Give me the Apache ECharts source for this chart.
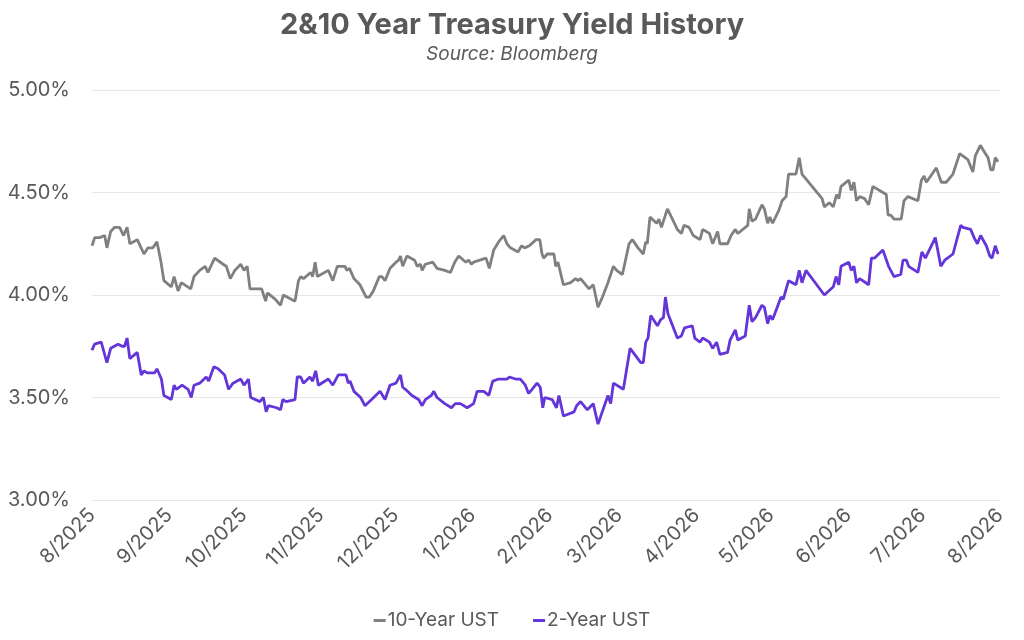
<!DOCTYPE html>
<html>
<head>
<meta charset="utf-8">
<title>2&10 Year Treasury Yield History</title>
<script src="https://cdn.jsdelivr.net/npm/echarts@6/dist/echarts.min.js"></script>
<style>
  html, body { margin: 0; padding: 0; background: #fff; }
  #chart { width: 1024px; height: 640px; }
</style>
</head>
<body>
<div id="chart"></div>
<script>
// x positions are days after 8/1/2025
var tenDays = [0, 1.1, 3.1, 5.1, 6.0, 7.5, 9.1, 11.1, 12.7, 14.1, 15.2, 18.2, 20.9, 22.5, 24.5, 26.1, 27.6, 28.9, 31.9, 33.0,
  34.6, 35.9, 39.7, 41.0, 43.3, 45.5, 46.6, 49.3, 52.7, 54.0, 55.6, 57.4, 59.8, 61.1, 62.4, 63.5, 68.2, 69.8, 70.5, 73.6,
  75.8, 76.9, 81.6, 83.0, 83.9, 85.0, 87.9, 88.7, 89.7, 90.6, 95.0, 96.8, 98.6, 101.7, 102.4, 103.5, 105.3, 107.7, 110.2, 111.5,
  113.1, 115.5, 116.5, 117.8, 119.8, 122.2, 123.3, 124.0, 124.9, 126.6, 129.7, 130.7, 132.0, 132.7, 134.0, 137.0, 138.7, 141.8, 144.1, 145.8,
  147.4, 150.3, 151.4, 152.5, 153.4, 158.4, 159.7, 161.5, 163.5, 165.5, 166.8, 168.2, 171.3, 172.6, 173.9, 175.8, 178.5, 180.0, 180.9, 181.6,
  183.0, 185.7, 186.4, 187.3, 189.5, 192.4, 194.4, 195.4, 196.4, 199.8, 201.5, 203.4, 205.2, 207.4, 209.6, 210.9, 213.2, 215.9, 217.2, 219.5,
  221.6, 222.6, 223.2, 224.3, 227.0, 227.9, 228.9, 231.3, 233.7, 235.3, 236.9, 238.0, 240.0, 241.7, 244.4, 245.5, 248.2, 249.5, 251.5, 252.4,
  255.5, 256.9, 258.6, 259.6, 263.6, 264.2, 265.3, 266.7, 269.3, 270.3, 271.6, 272.5, 273.6, 276.0, 277.4, 279.0, 280.0, 283.0, 284.3, 285.4,
  293.5, 294.4, 296.4, 298.0, 299.3, 300.2, 301.1, 304.2, 305.2, 306.3, 307.3, 308.6, 310.6, 312.2, 313.9, 316.6, 319.3, 320.0, 321.1, 322.4,
  325.3, 326.4, 328.0, 332.0, 333.4, 334.5, 335.4, 339.4, 341.4, 343.4, 346.1, 348.8, 352.1, 354.1, 355.1, 355.9, 357.1, 359.1, 360.2, 361.3,
  362.2, 363.1, 364.2];
var tenYear = [4.24, 4.28, 4.28, 4.29, 4.23, 4.31, 4.33, 4.33, 4.29, 4.33, 4.25, 4.27, 4.20, 4.23, 4.23, 4.26, 4.17, 4.07, 4.04, 4.09,
  4.02, 4.06, 4.03, 4.09, 4.12, 4.14, 4.11, 4.18, 4.15, 4.14, 4.08, 4.12, 4.15, 4.12, 4.14, 4.03, 4.03, 3.97, 4.01, 3.98,
  3.95, 4.00, 3.97, 4.07, 4.09, 4.08, 4.11, 4.09, 4.16, 4.09, 4.12, 4.07, 4.14, 4.14, 4.12, 4.13, 4.08, 4.05, 3.99, 3.99,
  4.02, 4.09, 4.09, 4.07, 4.13, 4.16, 4.17, 4.19, 4.14, 4.19, 4.17, 4.14, 4.15, 4.12, 4.15, 4.16, 4.13, 4.12, 4.11, 4.16,
  4.19, 4.16, 4.17, 4.15, 4.16, 4.18, 4.13, 4.22, 4.26, 4.29, 4.25, 4.23, 4.21, 4.24, 4.23, 4.24, 4.27, 4.27, 4.20, 4.18,
  4.20, 4.20, 4.14, 4.16, 4.05, 4.06, 4.08, 4.07, 4.08, 4.03, 4.05, 3.94, 3.99, 4.06, 4.14, 4.12, 4.10, 4.25, 4.27, 4.23,
  4.20, 4.26, 4.25, 4.38, 4.35, 4.37, 4.33, 4.42, 4.36, 4.32, 4.30, 4.34, 4.33, 4.29, 4.27, 4.32, 4.30, 4.25, 4.31, 4.25,
  4.25, 4.29, 4.32, 4.30, 4.34, 4.42, 4.36, 4.37, 4.44, 4.42, 4.35, 4.38, 4.35, 4.41, 4.46, 4.48, 4.59, 4.59, 4.67, 4.59,
  4.47, 4.43, 4.45, 4.43, 4.49, 4.47, 4.53, 4.56, 4.51, 4.55, 4.46, 4.48, 4.47, 4.44, 4.53, 4.51, 4.49, 4.39, 4.39, 4.37,
  4.37, 4.46, 4.48, 4.46, 4.56, 4.58, 4.55, 4.62, 4.55, 4.55, 4.59, 4.69, 4.66, 4.60, 4.68, 4.68, 4.73, 4.69, 4.67, 4.61,
  4.61, 4.67, 4.65];

var twoDays = [0, 1.0, 3.7, 6.0, 7.5, 10.5, 12.1, 13.1, 14.1, 15.2, 18.2, 19.8, 20.9, 22.2, 25.2, 26.1, 27.9, 28.9, 31.9, 33.0,
  33.9, 36.2, 38.6, 39.9, 41.0, 43.3, 45.9, 46.9, 49.0, 50.7, 53.3, 54.9, 56.7, 59.8, 61.1, 62.9, 63.8, 67.5, 68.9, 70.0,
  70.9, 74.2, 75.8, 76.7, 78.0, 81.6, 82.5, 83.9, 85.0, 87.6, 88.7, 89.9, 91.0, 95.0, 96.8, 99.0, 102.1, 103.0, 103.7, 105.3,
  108.0, 109.7, 112.4, 115.8, 117.8, 119.8, 122.2, 124.0, 124.9, 126.0, 128.6, 131.3, 132.7, 134.0, 136.4, 137.4, 138.7, 141.8, 144.5, 146.0,
  148.1, 150.8, 153.4, 154.8, 157.5, 159.5, 161.1, 163.5, 165.5, 166.8, 167.8, 170.2, 172.2, 174.2, 175.5, 176.9, 178.9, 180.2, 181.2, 182.0,
  185.0, 186.7, 187.7, 189.5, 193.8, 194.8, 196.4, 199.1, 201.5, 203.4, 207.4, 208.5, 209.6, 213.6, 216.3, 220.6, 221.6, 222.6, 223.5, 224.6,
  227.3, 228.6, 229.7, 230.5, 231.5, 235.3, 236.9, 238.2, 241.3, 242.3, 244.4, 245.5, 248.2, 249.5, 251.1, 252.4, 255.5, 256.5, 258.6, 259.6,
  262.6, 264.2, 265.3, 266.7, 269.3, 270.3, 271.6, 272.5, 273.6, 277.0, 277.9, 280.0, 283.0, 284.3, 285.4, 287.0, 294.4, 298.0, 299.1, 300.2,
  301.1, 304.2, 305.2, 306.3, 307.3, 308.6, 312.2, 313.3, 314.6, 317.9, 320.2, 322.4, 325.1, 326.0, 327.4, 328.3, 332.0, 333.6, 335.0, 339.0,
  341.2, 342.8, 346.1, 349.2, 350.1, 353.2, 354.6, 355.9, 357.2, 359.5, 360.9, 361.8, 363.1, 364.2];
var twoYear = [3.73, 3.76, 3.77, 3.67, 3.74, 3.76, 3.75, 3.75, 3.79, 3.69, 3.72, 3.61, 3.63, 3.62, 3.62, 3.64, 3.59, 3.51, 3.49, 3.56,
  3.54, 3.56, 3.54, 3.50, 3.56, 3.57, 3.60, 3.58, 3.65, 3.64, 3.61, 3.54, 3.57, 3.59, 3.56, 3.59, 3.50, 3.48, 3.50, 3.43,
  3.46, 3.45, 3.44, 3.49, 3.48, 3.49, 3.60, 3.60, 3.57, 3.60, 3.58, 3.63, 3.56, 3.59, 3.56, 3.61, 3.61, 3.57, 3.58, 3.53,
  3.50, 3.46, 3.49, 3.53, 3.49, 3.56, 3.57, 3.61, 3.55, 3.54, 3.51, 3.49, 3.46, 3.49, 3.51, 3.53, 3.50, 3.47, 3.45, 3.47,
  3.47, 3.45, 3.47, 3.53, 3.53, 3.51, 3.58, 3.59, 3.59, 3.59, 3.60, 3.59, 3.59, 3.56, 3.52, 3.54, 3.57, 3.55, 3.45, 3.50,
  3.49, 3.45, 3.51, 3.41, 3.43, 3.46, 3.48, 3.44, 3.47, 3.37, 3.51, 3.47, 3.57, 3.54, 3.74, 3.67, 3.67, 3.77, 3.79, 3.90,
  3.85, 3.88, 3.89, 3.99, 3.91, 3.79, 3.80, 3.84, 3.85, 3.79, 3.77, 3.79, 3.77, 3.74, 3.77, 3.71, 3.72, 3.78, 3.83, 3.78,
  3.80, 3.95, 3.87, 3.89, 3.95, 3.94, 3.86, 3.90, 3.88, 3.99, 3.98, 4.07, 4.05, 4.12, 4.06, 4.12, 4.00, 4.04, 4.09, 4.05,
  4.14, 4.16, 4.12, 4.14, 4.06, 4.08, 4.05, 4.18, 4.18, 4.22, 4.14, 4.09, 4.10, 4.17, 4.17, 4.14, 4.11, 4.21, 4.18, 4.28,
  4.14, 4.17, 4.20, 4.34, 4.33, 4.32, 4.28, 4.25, 4.29, 4.24, 4.19, 4.18, 4.24, 4.20];

// month starts (days after 8/1/2025) and their labels
var monthDays = [0, 31, 61, 92, 122, 153, 184, 212, 243, 273, 304, 334, 365];
var monthLabels = ["8/2025", "9/2025", "10/2025", "11/2025", "12/2025", "1/2026", "2/2026",
  "3/2026", "4/2026", "5/2026", "6/2026", "7/2026", "8/2026"];

var textColor = "#595959";
var font = "Inter";

function pairs(xs, ys) {
  return xs.map(function (x, i) { return [x, ys[i]]; });
}

var myChart = echarts.init(document.getElementById("chart"));
var option = {
  animation: false,
  title: {
    text: "2&10 Year Treasury Yield History",
    subtext: "Source: Bloomberg",
    left: "center",
    top: 6,
    itemGap: 5,
    textStyle: { fontFamily: font, fontSize: 29, fontWeight: "bold", color: textColor },
    subtextStyle: { fontFamily: font, fontSize: 19, fontStyle: "italic", color: textColor }
  },
  legend: {
    bottom: 5,
    itemGap: 34,
    itemWidth: 12,
    itemHeight: 3,
    icon: "rect",
    textStyle: { fontFamily: font, fontSize: 19, color: textColor, padding: [0, 0, 0, -3] },
    data: ["10-Year UST", "2-Year UST"]
  },
  grid: { left: 92, right: 24, top: 90, bottom: 140, containLabel: false },
  xAxis: {
    type: "value",
    min: 0,
    max: 365,
    axisLine: { show: false },
    axisTick: { show: false },
    splitLine: { show: false },
    axisLabel: {
      customValues: monthDays,
      rotate: 45,
      margin: 12,
      fontFamily: font,
      fontSize: 20,
      color: textColor,
      formatter: function (v) {
        var i = monthDays.indexOf(v);
        return i >= 0 ? monthLabels[i] : "";
      }
    }
  },
  yAxis: {
    type: "value",
    min: 3,
    max: 5,
    interval: 0.5,
    axisLine: { show: false },
    axisTick: { show: false },
    splitLine: { lineStyle: { color: "#e6e6e6", width: 1 } },
    axisLabel: {
      margin: 22,
      fontFamily: font,
      fontSize: 20,
      color: textColor,
      formatter: function (v) { return v.toFixed(2) + "%"; }
    }
  },
  series: [
    {
      name: "10-Year UST",
      type: "line",
      showSymbol: false,
      color: "#808080",
      lineStyle: { width: 2.8 },
      data: pairs(tenDays, tenYear)
    },
    {
      name: "2-Year UST",
      type: "line",
      showSymbol: false,
      color: "#6435d9",
      lineStyle: { width: 2.8 },
      data: pairs(twoDays, twoYear)
    }
  ]
};
myChart.setOption(option);
</script>
</body>
</html>
